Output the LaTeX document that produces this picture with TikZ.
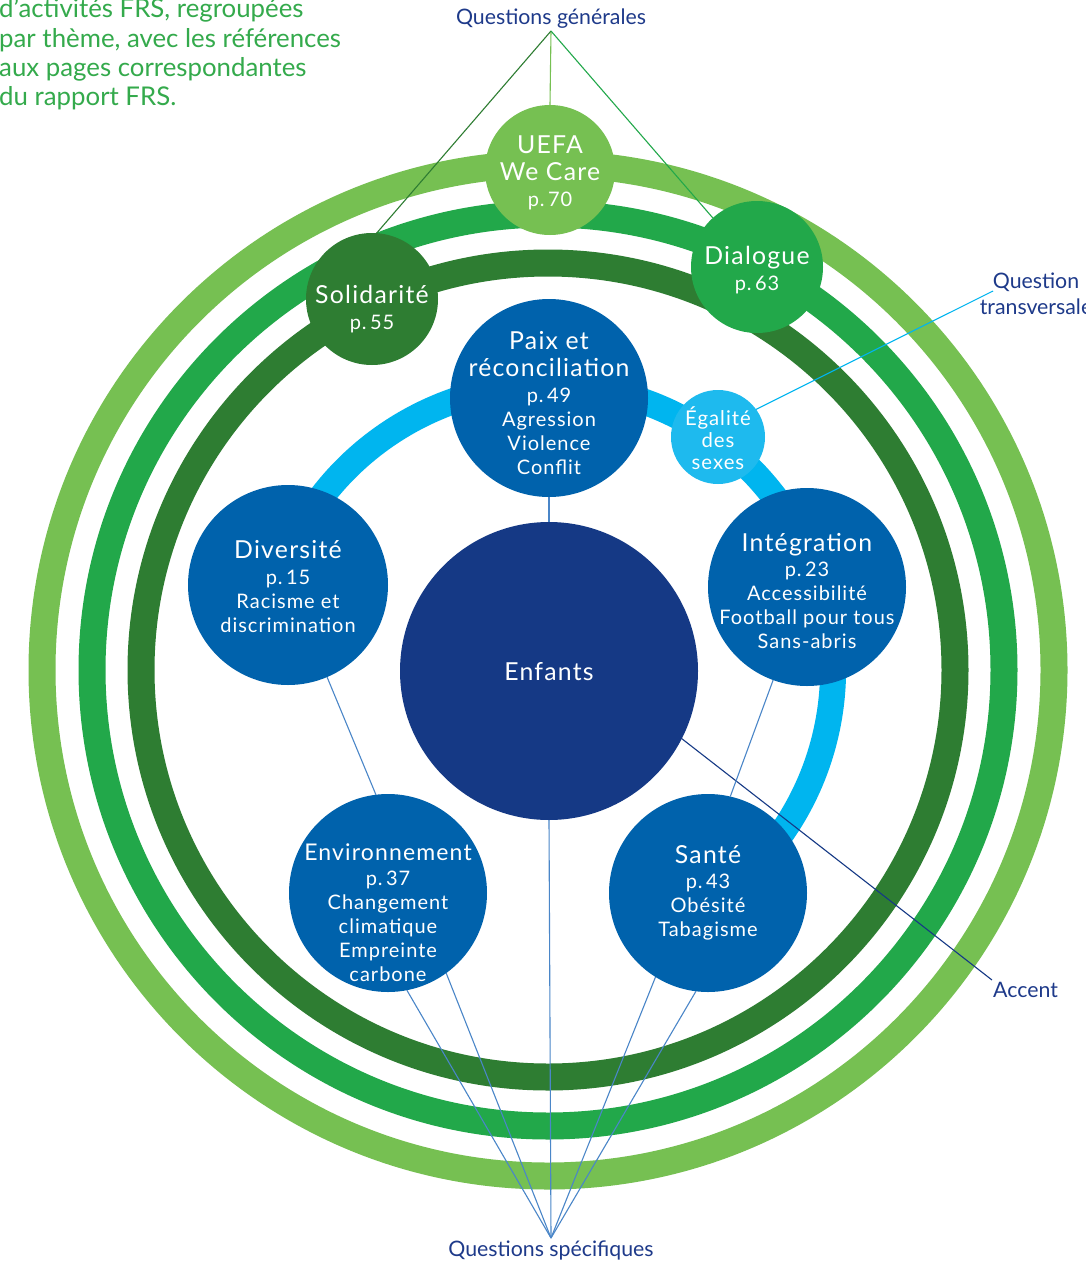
\documentclass[tikz,border=0pt]{standalone}
\usepackage{fontspec}
\setmainfont{Lato}
\newfontfamily\cfont[LetterSpace=5]{Lato}
\usetikzlibrary{calc}
\definecolor{lgreen}{RGB}{118,192,82}
\definecolor{mgreen}{RGB}{34,168,74}
\definecolor{dgreen}{RGB}{46,125,50}
\definecolor{cyanb}{RGB}{0,181,239}
\definecolor{egal}{RGB}{30,186,238}
\definecolor{bblue}{RGB}{0,98,172}
\definecolor{navy}{RGB}{21,57,133}
\definecolor{tnavy}{RGB}{30,58,138}
\definecolor{tgreen}{RGB}{52,170,76}
\definecolor{fanc}{RGB}{74,134,200}
\newcommand\tsz{\fontsize{24.8}{28}\selectfont}
\begin{document}
\begin{tikzpicture}[x=1pt,y=-1pt,
  bubble/.style={circle,inner sep=0pt,outer sep=0pt,draw=none,fill=#1},
  ctext/.style={text=white,align=center,font=\cfont\fontsize{20}{24}\selectfont,inner sep=0pt},
  lbl/.style={text=tnavy,align=center,font=\fontsize{21.3}{26}\selectfont,inner sep=0pt},
  ring/.style={line width=27pt},
  conn/.style={line width=1.1pt}]
\useasboundingbox (0,0) rectangle (1086,1261);
\fill[white] (0,0) rectangle (1086,1261);
% rings
\coordinate (c) at (548,670);
\draw[ring,lgreen] (c) circle[radius=506];
\draw[ring,mgreen] (c) circle[radius=456];
\draw[ring,dgreen] (c) circle[radius=407];
\draw[line width=26pt,cyanb] (c) ++(195:285) arc[start angle=195,end angle=412,radius=285];
% circles
\node[bubble=lgreen,minimum size=130pt] (uefa) at (550,170) {};
\node[bubble=dgreen,minimum size=132pt] (sol) at (372,299) {};
\node[bubble=mgreen,minimum size=132pt] (dia) at (757,267) {};
\node[bubble=bblue,minimum size=198pt] (paix) at (549,398) {};
\node[bubble=egal,minimum size=94pt] (ega) at (718,437) {};
\node[bubble=bblue,minimum size=200pt] (div) at (288,585) {};
\node[bubble=bblue,minimum size=198pt] (int) at (807,587) {};
\node[bubble=navy,minimum size=298pt] (enf) at (549,671) {};
\node[bubble=bblue,minimum size=198pt] (env) at (388,893) {};
\node[bubble=bblue,minimum size=198pt] (san) at (708,893) {};
% label points
\coordinate (qg) at (551,31);
\coordinate (qs) at (551,1238);
\coordinate (qt) at (993,291);
\coordinate (ac) at (992,980);
% connectors
\draw[conn,lgreen] (qg) -- (uefa.north);
\draw[conn,dgreen] (qg) -- (sol.86);
\draw[conn,mgreen] (qg) -- (dia.132);
\draw[conn,cyanb] (ega.36) -- (qt);
\draw[conn,navy] (enf.-27) -- (ac);
\draw[conn,fanc] (qs) -- (env.-79);
\draw[conn,fanc] (qs) -- (env.-54);
\draw[conn,fanc] (qs) -- (enf.south);
\draw[conn,fanc] (qs) -- (san.238.5);
\draw[conn,fanc] (qs) -- (san.263.5);
\draw[conn,fanc] (paix.south) -- (enf.north);
\draw[conn,fanc] (div.-67) -- (env.97.5);
\draw[conn,fanc] (int.-110) -- (san.77.5);
% circle texts
\node[ctext] (uefat) at (550,172.5) {{\tsz UEFA}\\[3pt]{\tsz We Care}\\[2pt]p.\,70};
\node[ctext] (solt) at (372,309) {{\tsz Solidarité}\\[2pt]p.\,55};
\node[ctext] (diat) at (757,270) {{\tsz Dialogue}\\[2pt]p.\,63};
\node[ctext] (paixt) at (549,403.5) {{\tsz Paix et}\\[3pt]{\tsz réconciliation}\\[2pt]p.\,49\\Agression\\Violence\\Conflit};
\node[ctext,font=\cfont\fontsize{20.3}{22}\selectfont] (egat) at (718,438) {Égalité\\des\\sexes};
\node[ctext] (divt) at (288,586.5) {{\tsz Diversité}\\[2pt]p.\,15\\Racisme et\\discrimination};
\node[ctext] (intt) at (807,590.5) {{\tsz Intégration}\\[1pt]p.\,23\\Accessibilité\\Football pour tous\\Sans-abris};
\node[ctext] (enft) at (549,672) {\tsz Enfants};
\node[ctext] (envt) at (388,912.5) {{\fontsize{23}{27}\selectfont Environnement}\\[1pt]p.\,37\\Changement\\climatique\\Empreinte\\carbone};
\node[ctext] (sant) at (708,892.5) {{\tsz Santé}\\[1pt]p.\,43\\Obésité\\Tabagisme};
% outer labels
\node[lbl] (qgt) at (551,19) {Questions générales};
\node[lbl] (qst) at (551,1250) {Questions spécifiques};
\node[lbl] (qtt) at (1036,294) {Question\\transversale};
\node[lbl,anchor=west] (act) at (993,990) {Accent};
\node[text=tgreen,align=left,anchor=north west,inner sep=0pt,font=\fontsize{25.8}{29.3}\selectfont] (intro) at (-1,-2) {d’activités FRS, regroupées\\par thème, avec les références\\aux pages correspondantes\\du rapport FRS.};
\end{tikzpicture}
\end{document}
